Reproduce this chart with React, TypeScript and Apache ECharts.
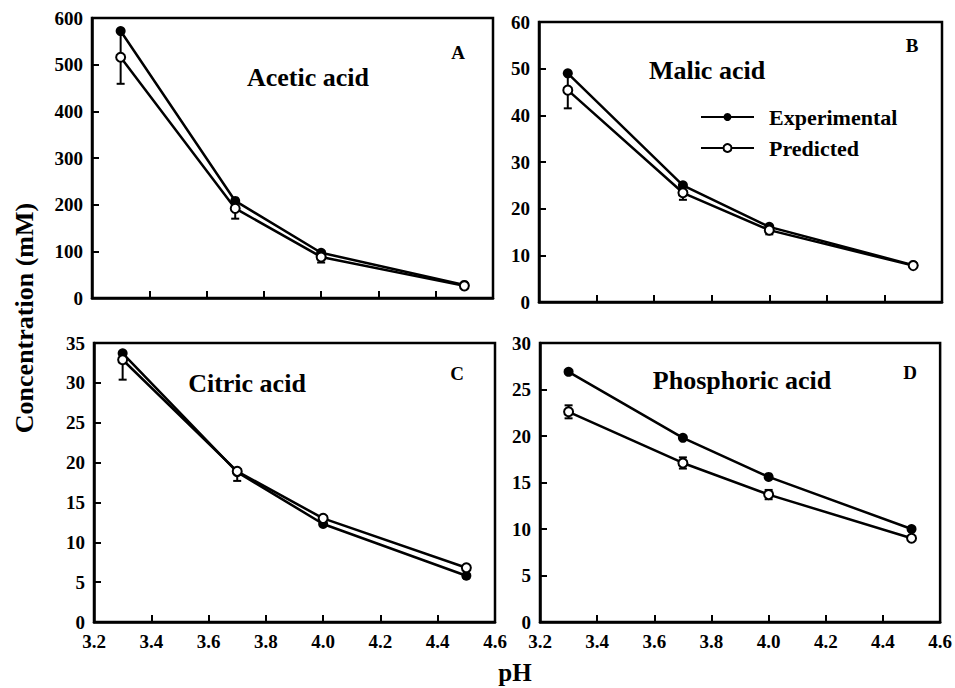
import React, { useEffect, useRef } from "react";
import * as echarts from "echarts";

const phValues = [3.3, 3.7, 4.0, 4.5];
const xTicks = { min: 3.2, max: 4.6, interval: 0.2 };

const aceticExp = [572, 208, 97, 28];
const aceticPred = [516, 192, 88, 26];
const aceticErrLow = [57, 22, 12, 0];
const aceticErrHigh = [57, 18, 8, 0];

const malicExp = [49.0, 25.0, 16.1, 7.9];
const malicPred = [45.4, 23.4, 15.4, 7.8];
const malicErrLow = [3.9, 1.5, 0.9, 0];
const malicErrHigh = [3.6, 1.4, 0.6, 0];

const citricExp = [33.7, 18.8, 12.3, 5.8];
const citricPred = [32.9, 18.9, 13.0, 6.8];
const citricErrLow = [2.5, 1.2, 0.3, 0];
const citricErrHigh = [0, 0, 0, 0];

const phosExp = [26.9, 19.8, 15.6, 10.0];
const phosPred = [22.6, 17.1, 13.7, 9.0];
const phosErrLow = [0.7, 0.6, 0.5, 0];
const phosErrHigh = [0.7, 0.6, 0.5, 0];

const panels = [
  { name: "Acetic acid", letter: "A", exp: aceticExp, pred: aceticPred, lo: aceticErrLow, hi: aceticErrHigh, yMax: 600, yStep: 100, showX: false },
  { name: "Malic acid", letter: "B", exp: malicExp, pred: malicPred, lo: malicErrLow, hi: malicErrHigh, yMax: 60, yStep: 10, showX: false },
  { name: "Citric acid", letter: "C", exp: citricExp, pred: citricPred, lo: citricErrLow, hi: citricErrHigh, yMax: 35, yStep: 5, showX: true },
  { name: "Phosphoric acid", letter: "D", exp: phosExp, pred: phosPred, lo: phosErrLow, hi: phosErrHigh, yMax: 30, yStep: 5, showX: true },
];

const gridBoxes = [
  { left: 92, top: 18, width: 401, height: 280 },
  { left: 539, top: 22, width: 403, height: 280 },
  { left: 94, top: 343, width: 401, height: 279 },
  { left: 540, top: 343, width: 402, height: 279 },
];

const titlePos = [
  { x: 308, y: 77 },
  { x: 707, y: 70 },
  { x: 247, y: 383 },
  { x: 742, y: 380 },
];
const letterPos = [
  { x: 458, y: 52 },
  { x: 912, y: 45 },
  { x: 457, y: 373 },
  { x: 910, y: 372 },
];

const FONT = "Liberation Serif";

export default function App() {
  const ref = useRef<HTMLDivElement>(null);
  useEffect(() => {
    if (!ref.current) return;
    const chart = echarts.init(ref.current, null, { renderer: "svg" });

    const grids: any[] = [];
    const xAxes: any[] = [];
    const yAxes: any[] = [];
    const series: any[] = [];
    const graphics: any[] = [];

    const textStyle = (size: number) => ({
      fill: "#000",
      fontFamily: FONT,
      fontWeight: "bold",
      fontSize: size,
      textAlign: "center",
      textVerticalAlign: "middle",
    });

    panels.forEach((p, i) => {
      grids.push({
        ...gridBoxes[i],
        show: true,
        borderColor: "#000",
        borderWidth: 2.5,
        backgroundColor: "transparent",
      });
      xAxes.push({
        type: "value",
        gridIndex: i,
        min: xTicks.min,
        max: xTicks.max,
        interval: xTicks.interval,
        splitLine: { show: false },
        axisLine: { show: true, lineStyle: { color: "#000", width: 2.5 } },
        axisTick: { show: true, inside: true, length: 7, lineStyle: { color: "#000", width: 2 } },
        axisLabel: {
          show: p.showX,
          color: "#000",
          fontFamily: FONT,
          fontWeight: "bold",
          fontSize: 19,
          margin: 10,
          formatter: (v: number) => v.toFixed(1),
        },
      });
      yAxes.push({
        type: "value",
        gridIndex: i,
        min: 0,
        max: p.yMax,
        interval: p.yStep,
        splitLine: { show: false },
        axisLine: { show: true, lineStyle: { color: "#000", width: 2.5 } },
        axisTick: { show: true, inside: true, length: 7, lineStyle: { color: "#000", width: 2 } },
        axisLabel: {
          color: "#000",
          fontFamily: FONT,
          fontWeight: "bold",
          fontSize: 19,
          margin: 9,
        },
      });
      series.push({
        type: "custom",
        xAxisIndex: i,
        yAxisIndex: i,
        z: 1,
        silent: true,
        encode: { x: 0, y: [1, 2] },
        data: phValues
          .map((x, k) => [x, p.pred[k] - p.lo[k], p.pred[k] + p.hi[k]])
          .filter((d, k) => p.lo[k] > 0 || p.hi[k] > 0),
        renderItem: (params: any, api: any) => {
          const x = api.value(0);
          const lo = api.coord([x, api.value(1)]);
          const hi = api.coord([x, api.value(2)]);
          const w = 4;
          const st = { stroke: "#000", lineWidth: 2 };
          return {
            type: "group",
            children: [
              { type: "line", shape: { x1: lo[0], y1: lo[1], x2: hi[0], y2: hi[1] }, style: st },
              { type: "line", shape: { x1: lo[0] - w, y1: lo[1], x2: lo[0] + w, y2: lo[1] }, style: st },
              { type: "line", shape: { x1: hi[0] - w, y1: hi[1], x2: hi[0] + w, y2: hi[1] }, style: st },
            ],
          };
        },
      });
      series.push({
        name: "Experimental",
        type: "line",
        xAxisIndex: i,
        yAxisIndex: i,
        z: 2,
        data: phValues.map((x, k) => [x, p.exp[k]]),
        symbol: "circle",
        symbolSize: 10,
        lineStyle: { color: "#000", width: 2.5 },
        itemStyle: { color: "#000", borderColor: "#000", borderWidth: 0 },
      });
      series.push({
        name: "Predicted",
        type: "line",
        xAxisIndex: i,
        yAxisIndex: i,
        z: 3,
        data: phValues.map((x, k) => [x, p.pred[k]]),
        symbol: "circle",
        symbolSize: 9,
        lineStyle: { color: "#000", width: 2.5 },
        itemStyle: { color: "#fff", borderColor: "#000", borderWidth: 2 },
      });
      graphics.push({
        type: "text",
        x: titlePos[i].x,
        y: titlePos[i].y,
        style: { text: p.name, ...textStyle(26) },
      });
      graphics.push({
        type: "text",
        x: letterPos[i].x,
        y: letterPos[i].y,
        style: { text: p.letter, ...textStyle(19) },
      });
    });

    graphics.push({
      type: "text",
      x: 24,
      y: 318,
      rotation: Math.PI / 2,
      style: { text: "Concentration (mM)", ...textStyle(26) },
    });
    graphics.push({
      type: "text",
      x: 515,
      y: 672,
      style: { text: "pH", ...textStyle(25) },
    });

    chart.setOption({
      animation: false,
      backgroundColor: "#fff",
      grid: grids,
      xAxis: xAxes,
      yAxis: yAxes,
      series,
      legend: {
        orient: "vertical",
        left: 700,
        top: 106,
        padding: 0,
        itemWidth: 53,
        itemHeight: 10,
        itemGap: 9,
        selectedMode: false,
        data: ["Experimental", "Predicted"],
        textStyle: {
          color: "#000",
          fontFamily: FONT,
          fontWeight: "bold",
          fontSize: 22,
          lineHeight: 18,
          padding: [0, 0, 0, 10],
        },
      },
      graphic: graphics,
    });
    return () => chart.dispose();
  }, []);
  return (
    <div
      ref={ref}
      style={{ position: "absolute", left: 0, top: 0, width: 955, height: 688 }}
    />
  );
}
